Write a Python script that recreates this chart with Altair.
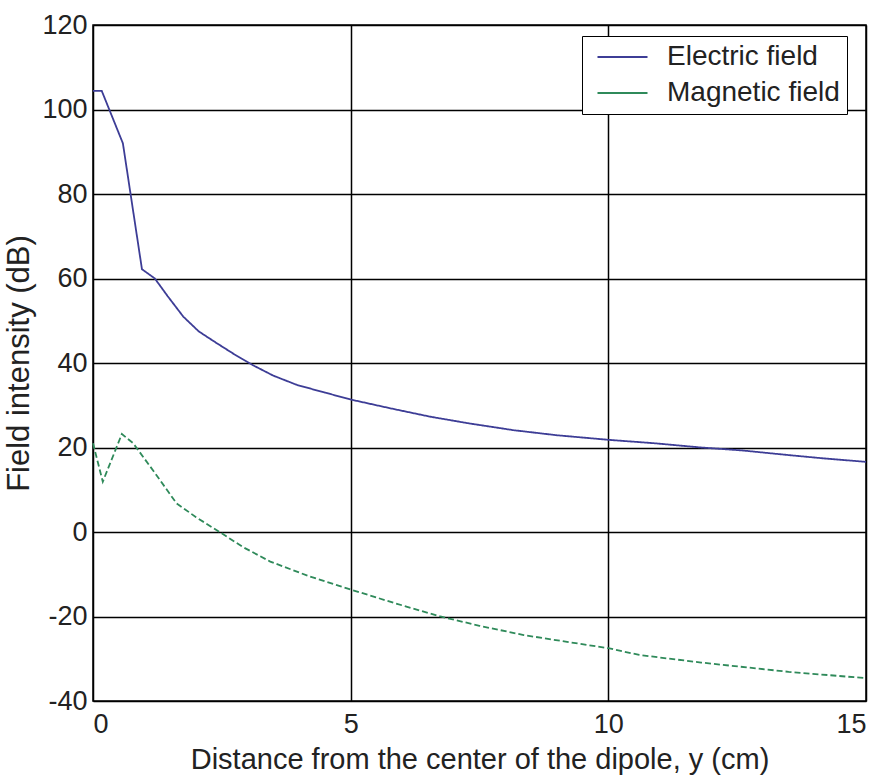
import altair as alt
import pandas as pd

# Electric field (dB) vs distance (cm)
e_x = [0, 0.17, 0.58, 0.95, 1.2, 1.45, 1.75, 2.05, 2.4, 2.75, 3.1, 3.5, 3.96, 4.5,
       5.02, 5.8, 6.54, 7.3, 8.16, 9.0, 10.02, 10.9, 11.8, 12.6, 13.5, 14.2, 15]
e_y = [104.4, 104.4, 92.0, 62.2, 60.0, 55.8, 51.0, 47.5, 44.7, 42.0, 39.5, 37.0, 34.8, 33.0,
       31.3, 29.2, 27.3, 25.7, 24.1, 22.9, 21.8, 21.0, 20.0, 19.3, 18.2, 17.4, 16.6]

# Magnetic field (dB) vs distance (cm)
m_x = [0, 0.19, 0.56, 0.78, 1.2, 1.62, 2.0, 2.47, 2.9, 3.44, 4.2, 5.02, 5.9, 6.74,
       7.5, 8.36, 9.2, 10.0, 10.6, 11.8, 13.5, 15]
m_y = [21.0, 11.9, 23.2, 21.0, 14.0, 6.8, 3.5, -0.1, -3.5, -7.0, -10.5, -13.7, -17.0, -20.0,
       -22.2, -24.4, -26.0, -27.5, -29.1, -30.9, -33.1, -34.6]

series_names = ["Electric field", "Magnetic field"]
series_dash = ["solid", "dashed"]
series_colors = ["#3d3d96", "#2f8a5a"]
x_ticks = [0, 5, 10, 15]
y_ticks = [-40, -20, 0, 20, 40, 60, 80, 100, 120]

rows = []
for i, (x, y) in enumerate(zip(e_x, e_y)):
    rows.append({"x": x, "y": y, "series": series_names[0], "dash": series_dash[0], "order": i})
for i, (x, y) in enumerate(zip(m_x, m_y)):
    rows.append({"x": x, "y": y, "series": series_names[1], "dash": series_dash[1], "order": i})
df = pd.DataFrame(rows)

FONT = "Liberation Sans"
TEXT = "#222222"

chart = alt.Chart(df).mark_line(strokeWidth=1.8).encode(
    x=alt.X("x:Q", scale=alt.Scale(domain=[0, 15], nice=False, zero=False),
            axis=alt.Axis(values=x_ticks, title="Distance from the  center of the dipole, y (cm)",
                          labelExpr="'' + datum.value")),
    y=alt.Y("y:Q", scale=alt.Scale(domain=[-40, 120], nice=False),
            axis=alt.Axis(values=y_ticks, title="Field intensity (dB)",
                          labelExpr="'' + datum.value")),
    color=alt.Color("series:N",
                    scale=alt.Scale(domain=series_names, range=series_colors),
                    legend=alt.Legend(title=None, orient="none", legendX=489, legendY=11,
                                      symbolType="M-0.55,0H4.45", symbolSize=400,
                                      symbolStrokeWidth=1.8,
                                      labelFontSize=28, labelFont=FONT, labelColor=TEXT,
                                      labelOffset=50, padding=7, rowPadding=8,
                                      labelExpr="datum.label + '\u2002'",
                                      strokeColor="black", fillColor="white",
                                      labelLimit=400)),
    strokeDash=alt.StrokeDash("dash:N",
                              scale=alt.Scale(domain=series_dash, range=[[1, 0], [6, 3]]),
                              legend=None),
    detail="series:N",
    order="order:Q",
).properties(
    width=773, height=676,
    autosize=alt.AutoSizeParams(type="none"),
    padding={"left": 93, "top": 25, "right": 18, "bottom": 75},
    background="white",
).configure_view(
    stroke="black", strokeWidth=1.5, fill="white"
).configure_axis(
    grid=True, gridColor="black", gridWidth=1.5, gridOpacity=1,
    domain=False, ticks=False,
    labelFont=FONT, labelFontSize=27, labelColor=TEXT,
    titleFont=FONT, titleFontWeight="normal", titleColor=TEXT,
).configure_axisX(
    labelPadding=10, titlePadding=8, titleFontSize=29
).configure_axisY(
    labelPadding=6, titlePadding=6, titleFontSize=31
)

chart.save("out.html", embed_options={"renderer": "svg", "actions": False})
